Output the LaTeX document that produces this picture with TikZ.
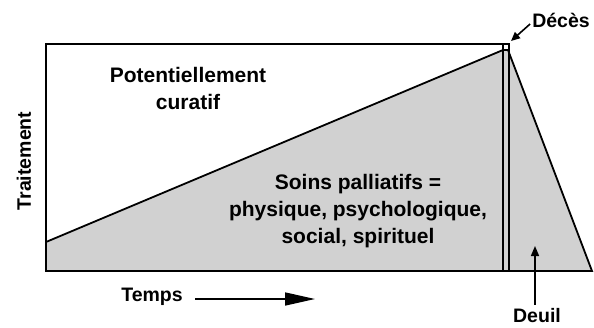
\documentclass[tikz,border=0pt]{standalone}
\usepackage{fontspec}
\setmainfont{Liberation Sans}
\usetikzlibrary{arrows.meta}
\begin{document}
\begin{tikzpicture}[x=1pt,y=-1pt,
  edge/.style={line width=1.8pt,line join=miter},
  bigtext/.style={font=\fontsize{21}{27}\selectfont\bfseries,inner sep=0pt,align=center},
  labeltext/.style={font=\fontsize{19.5}{24}\selectfont\bfseries,inner sep=0pt},
  pointer/.style={line width=1.6pt}
]
\useasboundingbox (0,0) rectangle (594,327);
% shaded region
\fill[black!18] (46,242) -- (504,50) -- (508,50) -- (592,271) -- (46,271) -- cycle;
% frame
\draw[edge] (46,44) rectangle (509,271);
\draw[edge] (503,44) -- (503,271);
\draw[edge] (503,50) -- (509,50);
\draw[edge] (46,242) -- (503,50);
\draw[edge] (508,50) -- (592,271) -- (509,271);
% texts
\node[bigtext] (cur) at (188,88) {Potentiellement\\curatif};
\node[bigtext] (pal) at (358,211) {Soins palliatifs =\\physique, psychologique,\\social, spirituel};
\node[labeltext,rotate=90] (trait) at (24,161) {Traitement};
\node[labeltext] (temps) at (152,297) {Temps};
\node[labeltext] (deces) at (561,20) {Décès};
\node[labeltext] (deuil) at (537,316) {Deuil};
% arrows
\coordinate (tempsend) at (315,299);
\coordinate (decesend) at (511,41);
\coordinate (deuilend) at (535,246);
\draw[pointer,-{Triangle[length=30pt,width=13pt]}] (195,299) -- (tempsend);
\draw[pointer,-{Triangle[length=9pt,width=8pt]}] (deces.west) ++(-2,4) -- (decesend);
\draw[pointer,-{Triangle[length=10pt,width=8pt]}] (deuil.north -| deuilend) ++(0,-4) -- (deuilend);
\end{tikzpicture}
\end{document}
